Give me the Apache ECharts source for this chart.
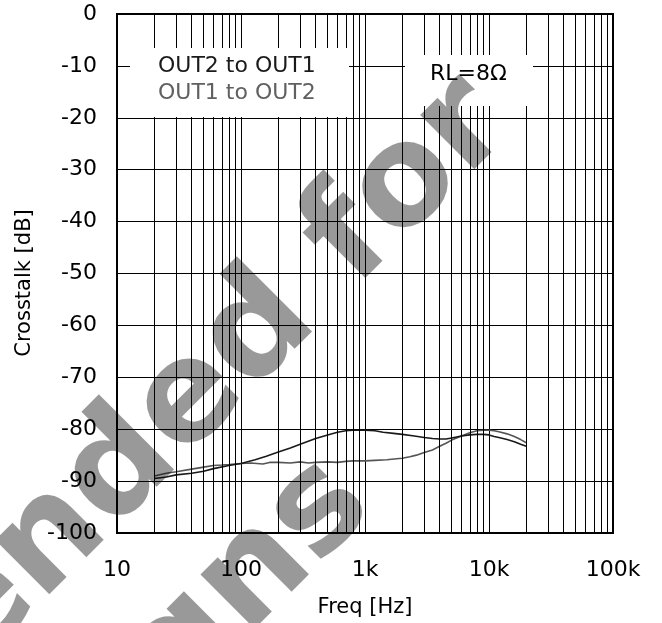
<!DOCTYPE html>
<html>
<head>
<meta charset="utf-8">
<script src="https://cdn.jsdelivr.net/npm/echarts@6/dist/echarts.min.js"></script>
<style>
  html, body { margin: 0; padding: 0; background: #ffffff; }
  #crosstalkChart { width: 662px; height: 623px; }
</style>
</head>
<body>
<div id="crosstalkChart"></div>
<script>
// OUT2 to OUT1 (black trace)
var freqA = [20, 25, 30, 40, 50, 60, 80, 100, 130, 160, 200, 250, 300, 400, 500, 600, 700, 800, 1000,
  1200, 1400, 1700, 2000, 2500, 3000, 3500, 4000, 4500, 5000, 6000, 7000, 8000, 9000, 10000,
  11000, 12000, 14000, 16000, 18000, 20000];
var valA = [-89.5, -89.2, -88.8, -88.5, -88.1, -87.6, -87.0, -86.6, -85.9, -85.2, -84.4, -83.6, -82.9, -81.8, -81.1, -80.6, -80.3, -80.2, -80.2,
  -80.3, -80.6, -80.8, -81.0, -81.3, -81.6, -81.8, -81.9, -81.9, -81.7, -81.3, -81.1, -81.0, -81.0, -81.1,
  -81.4, -81.6, -82.0, -82.4, -82.9, -83.3];
// OUT1 to OUT2 (grey trace)
var freqB = [20, 25, 30, 40, 50, 60, 70, 80, 100, 120, 150, 170, 200, 250, 300, 350, 400, 500, 600, 700, 800, 1000,
  1200, 1500, 1800, 2000, 2300, 2600, 3000, 3500, 4000, 4500, 5000, 6000, 7000, 8000, 9000, 10000,
  11000, 12000, 14000, 16000, 18000, 20000];
var valB = [-89.0, -88.5, -88.2, -87.7, -87.3, -87.0, -86.9, -86.8, -86.6, -86.5, -86.7, -86.4, -86.4, -86.5, -86.3, -86.5, -86.4, -86.3, -86.4, -86.2, -86.1, -86.1,
  -86.0, -85.9, -85.7, -85.6, -85.3, -85.0, -84.5, -84.0, -83.3, -82.7, -82.1, -81.3, -80.7, -80.3, -80.2, -80.2,
  -80.3, -80.5, -80.9, -81.4, -82.0, -82.6];

var seriesNames = ["OUT2 to OUT1", "OUT1 to OUT2"];
var xTickValues = [10, 100, 1000, 10000, 100000];
var xTickLabels = ["10", "100", "1k", "10k", "100k"];
// minor frequency grid lines 2..9 of every decade
var minorFreqs = [20, 30, 40, 50, 60, 70, 80, 90,
  200, 300, 400, 500, 600, 700, 800, 900,
  2000, 3000, 4000, 5000, 6000, 7000, 8000, 9000,
  20000, 30000, 40000, 50000, 60000, 70000, 80000, 90000];

var toPairs = function (xs, ys) {
  var out = [];
  for (var i = 0; i < xs.length; i++) out.push([xs[i], ys[i]]);
  return out;
};

var myChart = echarts.init(document.getElementById("crosstalkChart"));
var labelFont = "DejaVu Sans";
var markFont = "bold 140px 'DejaVu Sans'";
var chartOptions = {
  backgroundColor: "#ffffff",
  animation: false,
  grid: {
    left: 117,
    right: 49,
    top: 14,
    bottom: 90,
    show: true,
    borderColor: "#000",
    borderWidth: 2,
    backgroundColor: "transparent"
  },
  xAxis: {
    type: "log",
    logBase: 10,
    min: 10,
    max: 100000,
    name: "Freq [Hz]",
    nameLocation: "middle",
    nameGap: 64,
    nameTextStyle: { fontFamily: labelFont, fontSize: 21, color: "#000" },
    axisLine: { show: false },
    axisTick: { show: false },
    axisLabel: {
      margin: 26,
      fontFamily: labelFont,
      fontSize: 22,
      color: "#000",
      formatter: function (v) {
        var i = xTickValues.indexOf(Math.round(v));
        return i >= 0 ? xTickLabels[i] : "";
      }
    },
    splitLine: { show: true, lineStyle: { color: "#000", width: 1 } }
  },
  yAxis: {
    type: "value",
    min: -100,
    max: 0,
    interval: 10,
    name: "Crosstalk [dB]",
    nameLocation: "middle",
    nameGap: 82,
    nameTextStyle: { fontFamily: labelFont, fontSize: 21, color: "#000", padding: [0, 19, 0, 0] },
    axisLine: { show: false },
    axisTick: { show: false },
    axisLabel: { margin: 20, fontFamily: labelFont, fontSize: 22, color: "#000" },
    splitLine: { show: true, lineStyle: { color: "#000", width: 1 } }
  },
  series: [
    {
      // minor grid, drawn through the x scale
      type: "line",
      data: [],
      silent: true,
      z: 1,
      markLine: {
        silent: true,
        symbol: ["none", "none"],
        label: { show: false },
        lineStyle: { color: "#000", width: 1, type: "solid" },
        emphasis: { disabled: true },
        data: minorFreqs.map(function (f) { return { xAxis: f }; })
      }
    },
    {
      name: seriesNames[1],
      type: "line",
      data: toPairs(freqB, valB),
      showSymbol: false,
      z: 2,
      lineStyle: { color: "#555555", width: 1.6 }
    },
    {
      name: seriesNames[0],
      type: "line",
      data: toPairs(freqA, valA),
      showSymbol: false,
      z: 2,
      lineStyle: { color: "#1a1a1a", width: 1.6 }
    }
  ],
  graphic: [
    // legend box
    { type: "rect", z: 10, shape: { x: 130, y: 48, width: 219, height: 69 }, style: { fill: "#fff" }, silent: true },
    {
      type: "text", z: 11, x: 158, y: 66,
      style: { text: seriesNames[0], font: "22px 'DejaVu Sans'", fill: "#1a1a1a", align: "left", verticalAlign: "middle" }
    },
    {
      type: "text", z: 11, x: 158, y: 93,
      style: { text: seriesNames[1], font: "22px 'DejaVu Sans'", fill: "#606060", align: "left", verticalAlign: "middle" }
    },
    // condition box
    { type: "rect", z: 10, shape: { x: 405, y: 55, width: 128, height: 51 }, style: { fill: "#fff" }, silent: true },
    {
      type: "text", z: 11, x: 430, y: 74,
      style: { text: "RL=8Ω", font: "22px 'DejaVu Sans'", fill: "#000", align: "left", verticalAlign: "middle" }
    },
    // translucent watermark on top
    {
      type: "text", z: 20, x: 489, y: 103, rotation: Math.PI / 4, silent: true,
      style: { text: "Not Recommended for", font: markFont, fill: "rgba(0,0,0,0.4)", align: "right", verticalAlign: "middle" }
    },
    {
      type: "text", z: 20, x: 350, y: 482, rotation: Math.PI / 4, silent: true,
      style: { text: "New Designs", font: markFont, fill: "rgba(0,0,0,0.4)", align: "right", verticalAlign: "middle" }
    }
  ]
};
myChart.setOption(chartOptions);
</script>
</body>
</html>
